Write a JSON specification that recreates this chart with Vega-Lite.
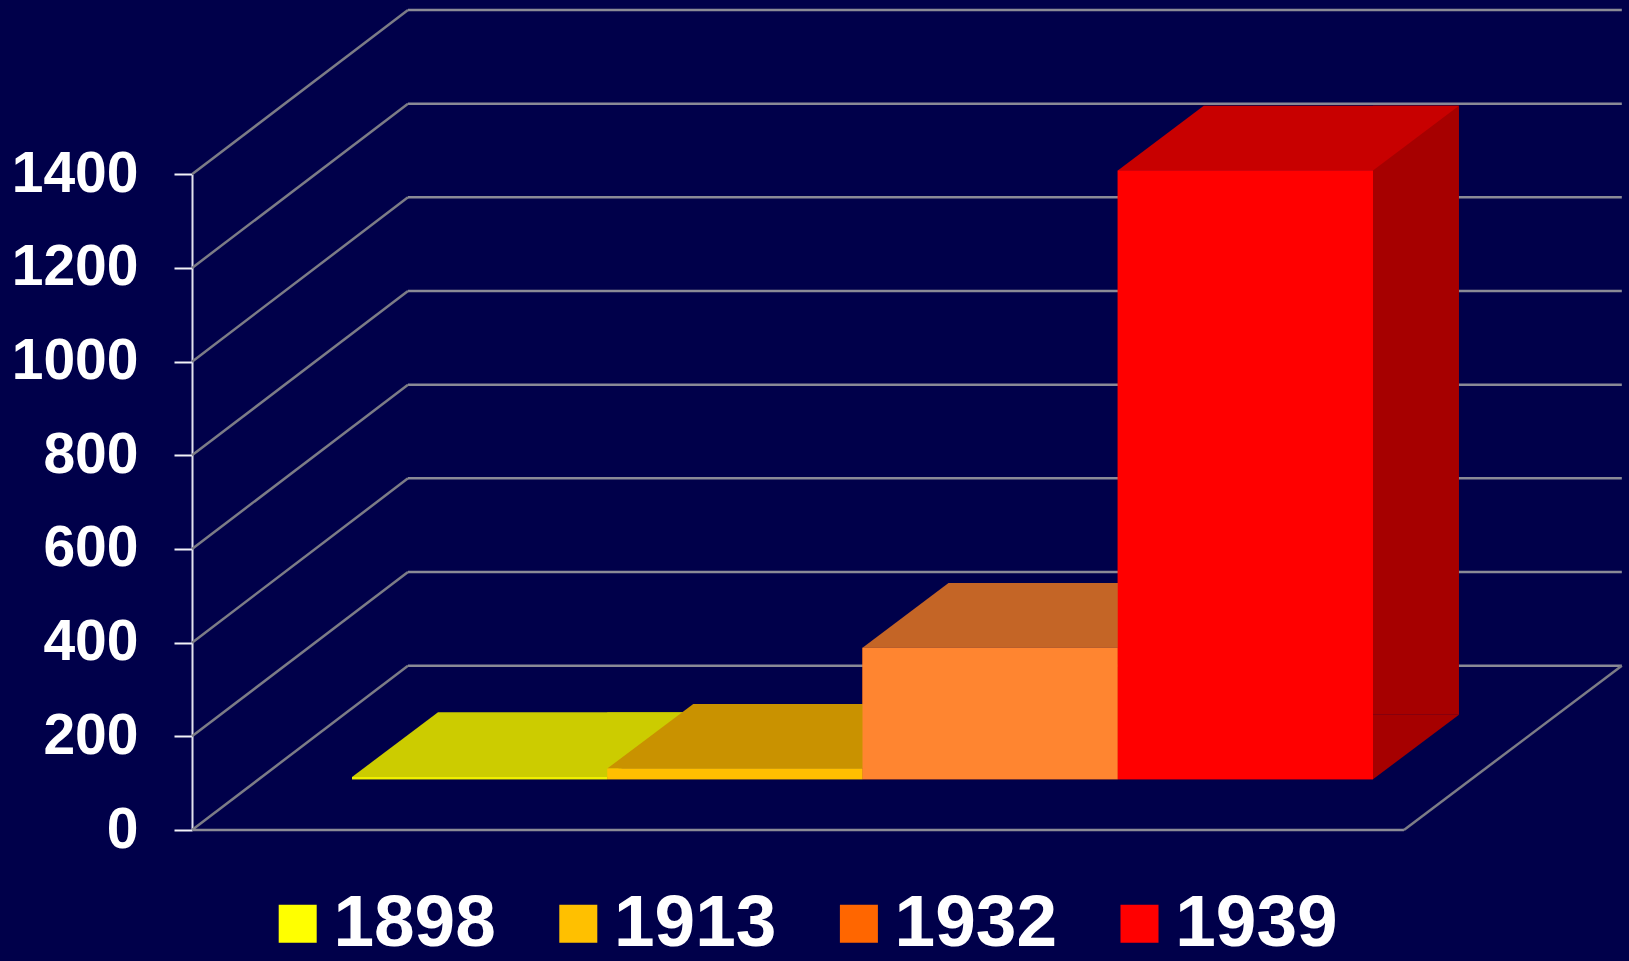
{
  "$schema": "https://vega.github.io/schema/vega-lite/v6.json",
  "width": 1437,
  "height": 961,
  "autosize": {"type": "none"},
  "padding": {"left": 192, "top": 0, "right": 0, "bottom": 0},
  "background": "#00004A",
  "config": {
    "view": {"stroke": null},
    "font": "Liberation Sans",
    "numberFormat": "d",
    "axisY": {
      "grid": false,
      "domainColor": "#E2E2EE", "domainWidth": 2,
      "tickColor": "#F2F2F8", "tickWidth": 2, "tickSize": 18,
      "labelFont": "Liberation Sans", "labelFontWeight": "bold", "labelFontSize": 57,
      "labelColor": "#FFFFFF", "labelPadding": 36,
      "labelFlush": false, "labelOverlap": false, "labelBound": false
    }
  },
  "datasets": {
    "freight": [
      {"year": "1898", "value": 5},
      {"year": "1913", "value": 23},
      {"year": "1932", "value": 281},
      {"year": "1939", "value": 1300}
    ],
    "ticks": [
      {"tick": 0}, {"tick": 200}, {"tick": 400}, {"tick": 600},
      {"tick": 800}, {"tick": 1000}, {"tick": 1200}, {"tick": 1400}
    ]
  },
  "layer": [
    {
      "data": {"name": "ticks"},
      "layer": [
        {
          "mark": {"type": "rule", "color": "#8a8a96", "strokeWidth": 2.5, "yOffset": -164.3},
          "encoding": {
            "x": {"datum": 15.03, "type": "quantitative", "scale": {"domain": [0, 100], "nice": false, "zero": false}, "axis": null},
            "x2": {"datum": 99.5},
            "y": {
              "field": "tick", "type": "quantitative",
              "scale": {"domain": [0, 1400], "range": [830, 174.3], "nice": false, "zero": true},
              "axis": {"title": null, "format": "d", "values": [0, 200, 400, 600, 800, 1000, 1200, 1400]}
            }
          }
        },
        {
          "mark": {"type": "rule", "color": "#7c7c86", "strokeWidth": 2.5, "y2Offset": -164.3},
          "encoding": {
            "x": {"datum": 0, "type": "quantitative", "scale": {"domain": [0, 100], "nice": false, "zero": false}, "axis": null},
            "x2": {"datum": 15.03},
            "y": {"field": "tick", "type": "quantitative", "axis": {"title": null, "format": "d", "values": [0, 200, 400, 600, 800, 1000, 1200, 1400]}},
            "y2": {"field": "tick"}
          }
        },
        {
          "transform": [{"filter": "datum.tick === 0"}],
          "mark": {"type": "rule", "color": "#8a8a96", "strokeWidth": 2.5},
          "encoding": {
            "x": {"datum": 0, "type": "quantitative", "scale": {"domain": [0, 100], "nice": false, "zero": false}, "axis": null},
            "x2": {"datum": 84.34},
            "y": {"field": "tick", "type": "quantitative", "axis": {"title": null, "format": "d", "values": [0, 200, 400, 600, 800, 1000, 1200, 1400]}}
          }
        },
        {
          "transform": [{"filter": "datum.tick === 0"}],
          "mark": {"type": "rule", "color": "#7c7c86", "strokeWidth": 2.5, "y2Offset": -164.3},
          "encoding": {
            "x": {"datum": 84.34, "type": "quantitative", "scale": {"domain": [0, 100], "nice": false, "zero": false}, "axis": null},
            "x2": {"datum": 99.5},
            "y": {"field": "tick", "type": "quantitative", "axis": {"title": null, "format": "d", "values": [0, 200, 400, 600, 800, 1000, 1200, 1400]}},
            "y2": {"field": "tick"}
          }
        }
      ]
    },
    {
      "data": {"name": "freight"},
      "layer": [
        {
          "mark": {"type": "bar", "yOffset": -50.7, "y2Offset": -50.7},
          "encoding": {
            "x": {"field": "year", "type": "nominal", "scale": {"type": "band", "range": [160, 1181], "paddingInner": 0, "paddingOuter": 0}, "axis": null},
            "y": {"field": "value", "type": "quantitative", "axis": {"title": null, "format": "d", "values": [0, 200, 400, 600, 800, 1000, 1200, 1400]}},
            "y2": {"datum": 0},
            "color": {
              "field": "year", "type": "nominal",
              "scale": {"domain": ["1898", "1913", "1932", "1939"], "range": ["#FFFF00", "#FFC000", "#FF6600", "#FF0000"]},
              "legend": {
                "orient": "none", "legendX": 69.2, "legendY": 887,
                "direction": "horizontal", "columns": 4, "title": null,
                "symbolType": "square", "symbolSize": 1444, "symbolStrokeWidth": 0, "symbolOpacity": 1,
                "labelFont": "Liberation Sans", "labelFontWeight": "bold", "labelFontSize": 73,
                "labelColor": "#FFFFFF", "labelOffset": -0.8, "labelLimit": 0,
                "columnPadding": 45.6, "padding": 0
              }
            }
          }
        },
        {
          "mark": {"type": "bar", "width": 86, "xOffset": 170.6, "yOffset": -115.3, "y2Offset": -115.3},
          "encoding": {
            "x": {"field": "year", "type": "nominal", "axis": null},
            "y": {"field": "value", "type": "quantitative", "axis": {"title": null, "format": "d", "values": [0, 200, 400, 600, 800, 1000, 1200, 1400]}},
            "y2": {"datum": 0},
            "fill": {"field": "year", "type": "nominal", "scale": {"domain": ["1898", "1913", "1932", "1939"], "range": ["#A3A300", "#A37800", "#A85018", "#A60000"]}, "legend": null}
          }
        },
        {
          "mark": {"type": "point", "shape": "M127.6,0L127.6,-64.6L213.6,-64.6Z", "size": 4, "filled": true, "opacity": 1, "strokeWidth": 0, "yOffset": -50.7},
          "encoding": {
            "x": {"field": "year", "type": "nominal", "axis": null},
            "y": {"datum": 0, "type": "quantitative", "axis": {"title": null, "format": "d", "values": [0, 200, 400, 600, 800, 1000, 1200, 1400]}},
            "fill": {"field": "year", "type": "nominal", "scale": {"domain": ["1898", "1913", "1932", "1939"], "range": ["#A3A300", "#A37800", "#A85018", "#A60000"]}, "legend": null}
          }
        },
        {
          "mark": {"type": "point", "shape": "M-127.6,0L127.6,0L213.6,-64.6L-41.6,-64.6Z", "size": 4, "filled": true, "opacity": 1, "strokeWidth": 0, "yOffset": -50.7},
          "encoding": {
            "x": {"field": "year", "type": "nominal", "axis": null},
            "y": {"field": "value", "type": "quantitative", "axis": {"title": null, "format": "d", "values": [0, 200, 400, 600, 800, 1000, 1200, 1400]}},
            "fill": {"field": "year", "type": "nominal", "scale": {"domain": ["1898", "1913", "1932", "1939"], "range": ["#CCCC00", "#C99200", "#C46526", "#C80000"]}, "legend": null}
          }
        },
        {
          "mark": {"type": "bar", "yOffset": -50.7, "y2Offset": -50.7},
          "encoding": {
            "x": {"field": "year", "type": "nominal", "axis": null},
            "y": {"field": "value", "type": "quantitative", "axis": {"title": null, "format": "d", "values": [0, 200, 400, 600, 800, 1000, 1200, 1400]}},
            "y2": {"datum": 0},
            "fill": {"field": "year", "type": "nominal", "scale": {"domain": ["1898", "1913", "1932", "1939"], "range": ["#F0F000", "#FFBF00", "#FF8530", "#FF0000"]}, "legend": null}
          }
        }
      ],
      "resolve": {"scale": {"fill": "independent"}}
    }
  ],
  "resolve": {"scale": {"x": "independent"}}
}
